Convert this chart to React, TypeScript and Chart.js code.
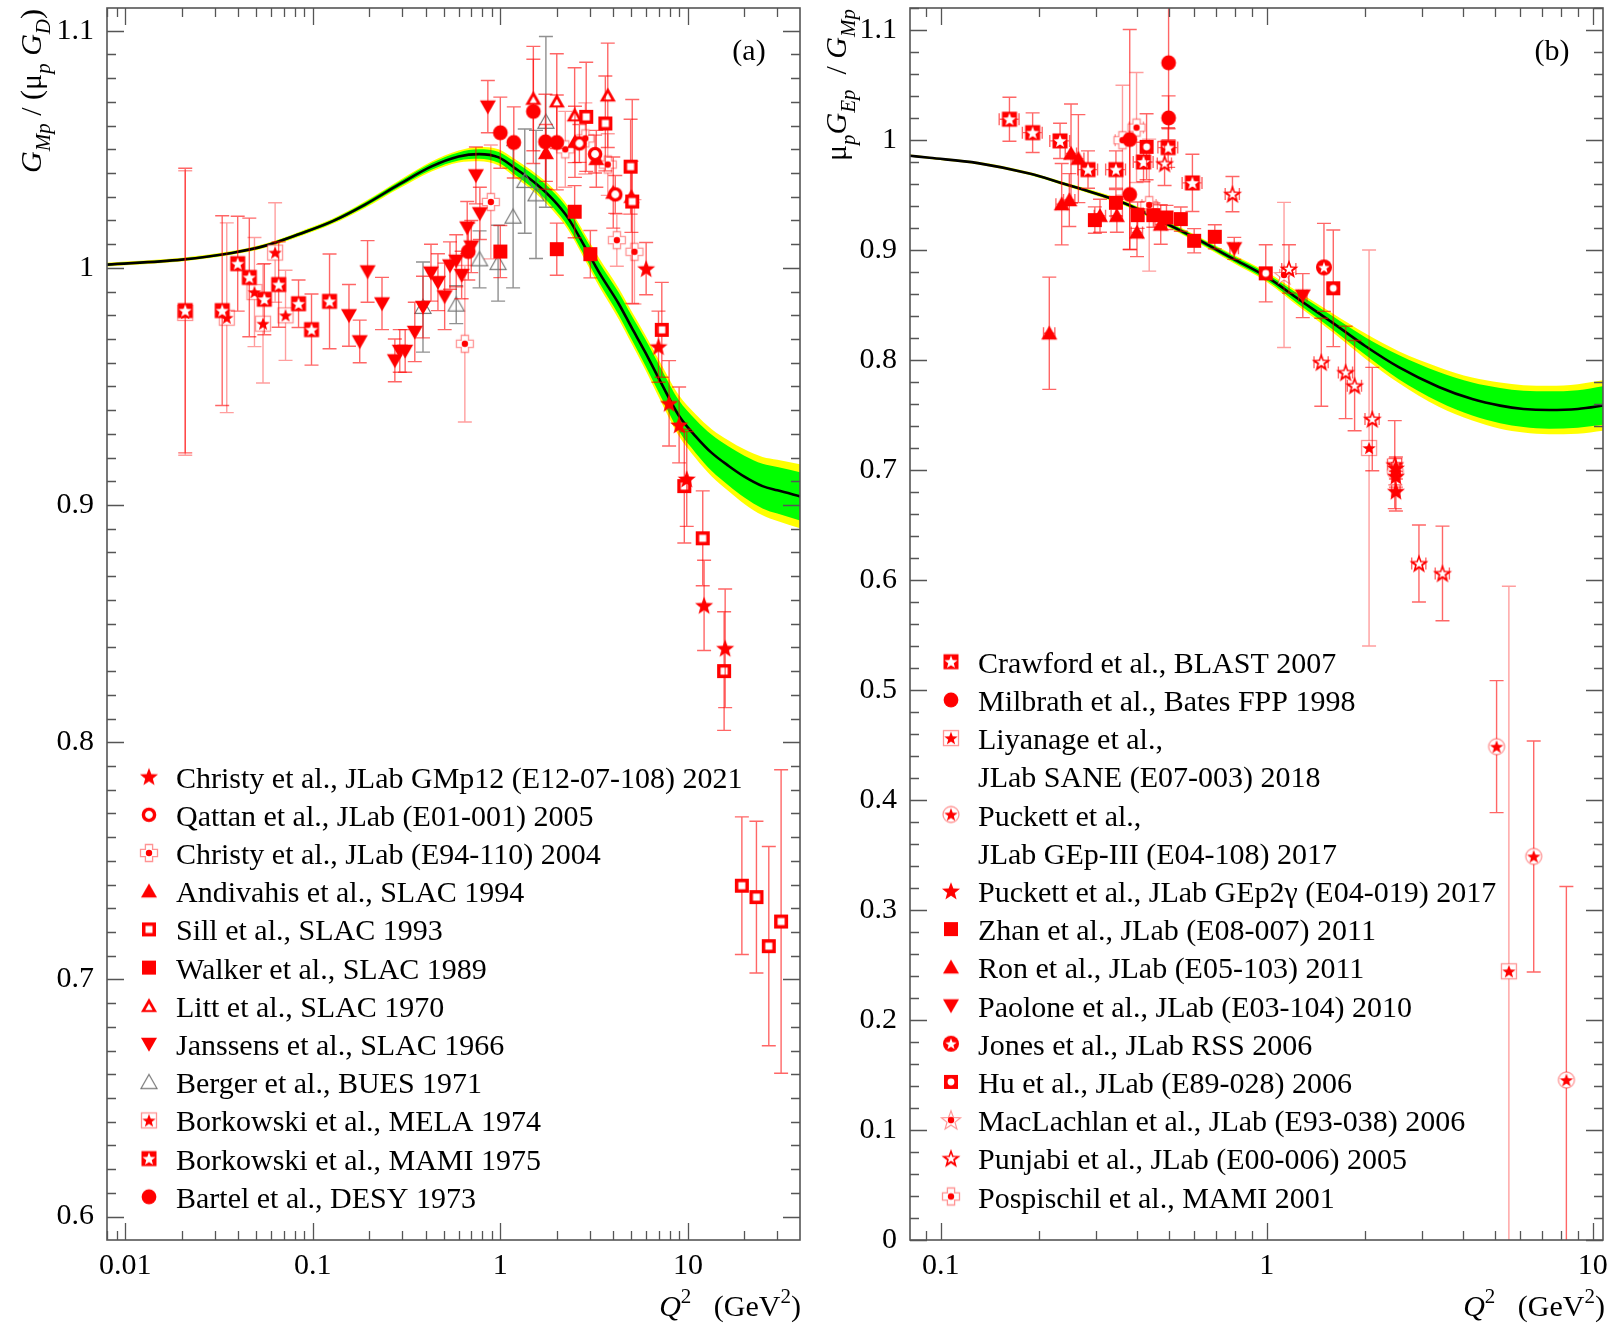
import React, { useEffect, useRef } from "react";
import { Chart, registerables } from "chart.js";
Chart.register(...registerables);

const FONT = "'Liberation Serif', 'Times New Roman', Times, serif";
const RED = "#ff0000";
const PINK = "rgba(255,0,0,0.42)";
const ERR_RED = "rgba(255,0,0,0.6)";
const ERR_PINK = "rgba(255,0,0,0.38)";
const ERR_GRAY = "rgba(70,70,70,0.6)";

// ---------------- Panel (a): G_Mp / (mu_p G_D) ----------------
const aXTicks = [0.01, 0.1, 1, 10];
const aYTicks = [0.6, 0.7, 0.8, 0.9, 1.0, 1.1];

const aCurveQ2 = [0.008, 0.02, 0.037, 0.056, 0.085, 0.127, 0.19, 0.29, 0.43, 0.6, 0.77, 0.98, 1.2, 1.55, 1.9, 2.3, 2.84, 3.4, 4.27, 5.0, 5.92, 7.2, 8.9, 11, 13.4, 16.5, 20, 25, 30, 40];
const aCurveVal = [1.0014, 1.0035, 1.0063, 1.0094, 1.0143, 1.0196, 1.0267, 1.0353, 1.0428, 1.047, 1.048, 1.0466, 1.042, 1.0355, 1.029, 1.021, 1.0085, 0.9975, 0.985, 0.975, 0.9645, 0.9515, 0.938, 0.929, 0.922, 0.9165, 0.912, 0.908, 0.9062, 0.9036];
const aCurveGreen = [0.0004, 0.0004, 0.0004, 0.0005, 0.0006, 0.0007, 0.0009, 0.0011, 0.0014, 0.0017, 0.002, 0.0023, 0.0027, 0.003, 0.0033, 0.0036, 0.004, 0.0043, 0.0047, 0.005, 0.0055, 0.006, 0.0065, 0.007, 0.0076, 0.0082, 0.0088, 0.0094, 0.0098, 0.0102];
const aCurveYellow = [0.0008, 0.0008, 0.0008, 0.0009, 0.001, 0.0011, 0.0014, 0.0017, 0.0021, 0.0025, 0.003, 0.0034, 0.0038, 0.0042, 0.0047, 0.005, 0.0055, 0.006, 0.0065, 0.0068, 0.0073, 0.008, 0.0086, 0.0093, 0.01, 0.0107, 0.0115, 0.0123, 0.0129, 0.0135];

const christy21Q2 = [5.99, 6.97, 7.94, 8.98, 9.86, 12.2, 15.8];
const christy21Val = [0.9997, 0.9668, 0.9429, 0.9338, 0.911, 0.8577, 0.8396];
const christy21Err = [0.011, 0.015, 0.018, 0.016, 0.02, 0.019, 0.025];

const qattanQ2 = [2.64, 3.2, 4.1];
const qattanVal = [1.0525, 1.048, 1.031];
const qattanErr = [0.008, 0.008, 0.008];

const christy04Q2 = [0.647, 0.89, 2.22, 2.84, 3.74, 4.18, 5.19];
const christy04Val = [0.968, 1.0278, 1.05, 1.0546, 1.0436, 1.0117, 1.0068];
const christy04Err = [0.033, 0.024, 0.016, 0.015, 0.013, 0.011, 0.022];

const andivahisQ2 = [1.75, 2.5, 3.25, 4.0, 5.0];
const andivahisVal = [1.0485, 1.0532, 1.046, 1.0318, 1.03];
const andivahisErr = [0.012, 0.015, 0.012, 0.015, 0.015];

const sillQ2 = [2.87, 3.63, 4.95, 5.05, 7.26, 9.57, 12.0, 15.6, 19.4, 23.2, 27.0, 31.4];
const sillVal = [1.0637, 1.0609, 1.0427, 1.028, 0.9739, 0.908, 0.886, 0.83, 0.7395, 0.7347, 0.714, 0.7244];
const sillErr = [0.023, 0.02, 0.02, 0.043, 0.02, 0.024, 0.02, 0.025, 0.029, 0.032, 0.042, 0.064];

const walkerQ2 = [1.0, 2.0, 2.49, 3.02];
const walkerVal = [1.0069, 1.0079, 1.0237, 1.0058];
const walkerErr = [0.011, 0.011, 0.011, 0.01];

const littQ2 = [1.5, 2.0, 2.49, 3.74];
const littVal = [1.0714, 1.0703, 1.0644, 1.0728];
const littErr = [0.022, 0.02, 0.02, 0.022];

const janssensQ2 = [0.156, 0.178, 0.196, 0.234, 0.274, 0.291, 0.311, 0.35, 0.387, 0.427, 0.465, 0.505, 0.539, 0.582, 0.622, 0.666, 0.7, 0.741, 0.778, 0.858];
const janssensVal = [0.98, 0.969, 0.9985, 0.985, 0.961, 0.965, 0.965, 0.973, 0.9835, 0.998, 0.994, 0.988, 1.001, 1.003, 0.997, 1.017, 1.009, 1.039, 1.023, 1.068];
const janssensErr = [0.013, 0.009, 0.013, 0.011, 0.009, 0.009, 0.009, 0.0125, 0.013, 0.012, 0.012, 0.014, 0.01, 0.011, 0.01, 0.011, 0.011, 0.012, 0.011, 0.011];

const bergerQ2 = [0.387, 0.582, 0.775, 0.973, 1.17, 1.35, 1.55, 1.75];
const bergerVal = [0.9835, 0.9845, 1.0036, 1.002, 1.0216, 1.0366, 1.031, 1.0616];
const bergerErr = [0.019, 0.008, 0.012, 0.016, 0.03, 0.022, 0.027, 0.036];

const melaQ2 = [0.0209, 0.0348, 0.0489, 0.0543, 0.063, 0.0716];
const melaVal = [0.981, 0.979, 0.9898, 0.9765, 1.0065, 0.98];
const melaErr = [0.06, 0.04, 0.023, 0.025, 0.021, 0.019];

const mamiQ2 = [0.0209, 0.0329, 0.0398, 0.0459, 0.0552, 0.0658, 0.084, 0.0985, 0.1229];
const mamiVal = [0.982, 0.982, 1.0018, 0.996, 0.9868, 0.993, 0.9849, 0.974, 0.9859];
const mamiErr = [0.06, 0.04, 0.02, 0.025, 0.015, 0.018, 0.01, 0.015, 0.02];

const bartelQ2 = [0.675, 1.0, 1.18, 1.5, 1.74, 2.0];
const bartelVal = [1.0069, 1.057, 1.0529, 1.066, 1.0532, 1.0529];
const bartelErr = [0.012, 0.015, 0.015, 0.022, 0.02, 0.02];

const aLegendLabels = [
  "Christy et al., JLab GMp12 (E12-07-108) 2021",
  "Qattan et al., JLab (E01-001) 2005",
  "Christy et al., JLab (E94-110) 2004",
  "Andivahis et al., SLAC 1994",
  "Sill et al., SLAC 1993",
  "Walker et al., SLAC 1989",
  "Litt et al., SLAC 1970",
  "Janssens et al., SLAC 1966",
  "Berger et al., BUES 1971",
  "Borkowski et al., MELA 1974",
  "Borkowski et al., MAMI 1975",
  "Bartel et al., DESY 1973",
];
const aLegendMarkers = ["starFilled", "ring", "crossDot", "triUp", "squareOpen", "squareFilled", "triUpOpen", "triDown", "triGray", "boxStar", "squareWhiteStar", "circleFilled"];

// ---------------- Panel (b): mu_p G_Ep / G_Mp ----------------
const bXTicks = [0.1, 1, 10];
const bYTicks = [0, 0.1, 0.2, 0.3, 0.4, 0.5, 0.6, 0.7, 0.8, 0.9, 1.0, 1.1];

const bCurveQ2 = [0.08, 0.0924, 0.13, 0.187, 0.234, 0.299, 0.378, 0.479, 0.606, 0.785, 1.0, 1.256, 1.59, 2.01, 2.54, 3.37, 4.27, 5.2, 6.13, 7.35, 9.0, 11.0];
const bCurveVal = [0.9858, 0.9838, 0.979, 0.9695, 0.961, 0.9514, 0.9408, 0.9257, 0.9105, 0.8924, 0.8755, 0.855, 0.834, 0.8125, 0.7935, 0.7755, 0.7645, 0.7585, 0.7555, 0.7545, 0.7555, 0.759];
const bCurveGreen = [0.0005, 0.0005, 0.0006, 0.0008, 0.001, 0.0012, 0.0014, 0.0017, 0.002, 0.0025, 0.003, 0.0045, 0.006, 0.008, 0.011, 0.0135, 0.015, 0.016, 0.0165, 0.017, 0.017, 0.0175];
const bCurveYellow = [0.001, 0.001, 0.0012, 0.0014, 0.0016, 0.0019, 0.0022, 0.0026, 0.003, 0.0037, 0.0045, 0.0065, 0.0085, 0.0115, 0.0145, 0.018, 0.0195, 0.021, 0.0215, 0.022, 0.0225, 0.023];

const crawfordQ2 = [0.1625, 0.1914, 0.2323, 0.283, 0.3447, 0.4189, 0.4985, 0.5916];
const crawfordVal = [1.0189, 1.0067, 0.9992, 0.9731, 0.9731, 0.98, 0.9931, 0.961];
const crawfordErr = [0.02, 0.018, 0.016, 0.017, 0.017, 0.018, 0.018, 0.026];

const milbrathQ2 = [0.38, 0.38, 0.5, 0.5];
const milbrathVal = [1.0004, 0.9505, 1.0702, 1.0201];
const milbrathErr = [0.1, 0.05, 0.06, 0.02];

const liyanageQ2 = [2.06, 5.53];
const liyanageVal = [0.72, 0.2443];
const liyanageErr = [0.18, 0.35];

const puckett3Q2 = [2.48, 5.07, 6.59, 8.3];
const puckett3Val = [0.6985, 0.4485, 0.3487, 0.1454];
const puckett3Err = [0.012, 0.06, 0.105, 0.176];

const puckett2gQ2 = [2.49, 2.49, 2.49];
const puckett2gVal = [0.7018, 0.6944, 0.6807];
const puckett2gErr = [0.01, 0.01, 0.018];

const zhanQ2 = [0.297, 0.3447, 0.4018, 0.449, 0.4926, 0.545, 0.599, 0.693];
const zhanVal = [0.9272, 0.9429, 0.9317, 0.9317, 0.9296, 0.9281, 0.9084, 0.912];
const zhanErr = [0.012, 0.012, 0.012, 0.011, 0.011, 0.011, 0.011, 0.011];

const ronQ2 = [0.2153, 0.235, 0.248, 0.251, 0.2644, 0.308, 0.347, 0.4, 0.473];
const ronVal = [0.8243, 0.9417, 0.9454, 0.9877, 0.9831, 0.9311, 0.9311, 0.916, 0.9232];
const ronErr = [0.051, 0.037, 0.024, 0.045, 0.04, 0.015, 0.015, 0.022, 0.018];

const paoloneQ2 = [0.795, 1.29];
const paoloneVal = [0.9015, 0.8585];
const paoloneErr = [0.01, 0.02];

const jonesQ2 = [1.498];
const jonesVal = [0.8842];
const jonesErr = [0.04];

const huQ2 = [0.428, 0.993, 1.6];
const huVal = [0.9938, 0.8788, 0.8652];
const huErr = [0.03, 0.026, 0.053];

const maclachlanQ2 = [1.13];
const maclachlanVal = [0.8773];
const maclachlanErr = [0.066];

const punjabiQ2 = [0.486, 0.785, 1.17, 1.47, 1.746, 1.86, 2.107, 2.47, 2.93, 3.46];
const punjabiVal = [0.9786, 0.9508, 0.8828, 0.798, 0.7887, 0.7767, 0.7463, 0.7049, 0.615, 0.606];
const punjabiErr = [0.02, 0.016, 0.022, 0.04, 0.042, 0.041, 0.047, 0.04, 0.035, 0.043];

const pospischilQ2 = [0.361, 0.3987, 0.436];
const pospischilVal = [0.9998, 1.0113, 0.9408];
const pospischilErr = [0.05, 0.05, 0.06];

const bLegendLabels = [
  "Crawford et al., BLAST 2007",
  "Milbrath et al., Bates FPP 1998",
  "Liyanage et al.,",
  "JLab SANE (E07-003) 2018",
  "Puckett et al.,",
  "JLab GEp-III (E04-108) 2017",
  "Puckett et al., JLab GEp2γ (E04-019) 2017",
  "Zhan et al., JLab (E08-007) 2011",
  "Ron et al., JLab (E05-103) 2011",
  "Paolone et al., JLab (E03-104) 2010",
  "Jones et al., JLab RSS 2006",
  "Hu et al., JLab (E89-028) 2006",
  "MacLachlan et al., JLab (E93-038) 2006",
  "Punjabi et al., JLab (E00-006) 2005",
  "Pospischil et al., MAMI 2001",
];
const bLegendMarkers = ["squareWhiteStar", "circleFilled", "boxStar", "", "circleStar", "", "starFilled", "squareFilled", "triUp", "triDown", "circleWhiteStar", "squareWhiteCircle", "starOpenDot", "starWhiteDot", "crossDot"];

// ---------------- markers ----------------
const MS = 26;
function makeMarkers(): Record<string, HTMLCanvasElement> {
  const m = (f: (c: CanvasRenderingContext2D) => void) => {
    const cv = document.createElement("canvas");
    cv.width = MS;
    cv.height = MS;
    const c = cv.getContext("2d") as CanvasRenderingContext2D;
    c.translate(MS / 2, MS / 2);
    f(c);
    return cv;
  };
  const star = (c: CanvasRenderingContext2D, R: number) => {
    c.beginPath();
    for (let i = 0; i < 10; i++) {
      const a = -Math.PI / 2 + (i * Math.PI) / 5;
      const r = i % 2 ? R * 0.42 : R;
      c.lineTo(r * Math.cos(a), r * Math.sin(a) + R * 0.08);
    }
    c.closePath();
  };
  const tri = (c: CanvasRenderingContext2D, up: boolean, w: number, h: number) => {
    c.beginPath();
    const s = up ? 1 : -1;
    c.moveTo(0, -s * h * 0.55);
    c.lineTo(w / 2, s * h * 0.45);
    c.lineTo(-w / 2, s * h * 0.45);
    c.closePath();
  };
  const plus = (c: CanvasRenderingContext2D, L: number, W: number) => {
    c.beginPath();
    c.moveTo(-W, -L); c.lineTo(W, -L); c.lineTo(W, -W); c.lineTo(L, -W); c.lineTo(L, W); c.lineTo(W, W);
    c.lineTo(W, L); c.lineTo(-W, L); c.lineTo(-W, W); c.lineTo(-L, W); c.lineTo(-L, -W); c.lineTo(-W, -W);
    c.closePath();
  };
  const circ = (c: CanvasRenderingContext2D, r: number) => {
    c.beginPath();
    c.arc(0, 0, r, 0, Math.PI * 2);
  };
  return {
    starFilled: m((c) => { star(c, 9.5); c.fillStyle = RED; c.fill(); }),
    ring: m((c) => { circ(c, 5.6); c.fillStyle = "#fff"; c.fill(); c.lineWidth = 3.4; c.strokeStyle = RED; c.stroke(); }),
    crossDot: m((c) => { plus(c, 8.5, 3.6); c.fillStyle = "#fff"; c.fill(); c.lineWidth = 1.3; c.strokeStyle = PINK; c.stroke(); circ(c, 3.2); c.fillStyle = RED; c.fill(); }),
    triUp: m((c) => { tri(c, true, 16, 14); c.fillStyle = RED; c.fill(); }),
    triDown: m((c) => { tri(c, false, 16, 14); c.fillStyle = RED; c.fill(); }),
    triUpOpen: m((c) => { tri(c, true, 16, 14); c.fillStyle = RED; c.fill(); c.save(); c.translate(0, 1.3); c.scale(0.45, 0.45); tri(c, true, 16, 14); c.fillStyle = "#fff"; c.fill(); c.restore(); }),
    triGray: m((c) => { tri(c, true, 16, 14); c.lineWidth = 1.2; c.strokeStyle = "#777"; c.stroke(); }),
    squareOpen: m((c) => { c.fillStyle = RED; c.fillRect(-7, -7, 14, 14); c.fillStyle = "#fff"; c.fillRect(-3.5, -3.5, 7, 7); }),
    squareFilled: m((c) => { c.fillStyle = RED; c.fillRect(-7, -7, 14, 14); }),
    circleFilled: m((c) => { circ(c, 7.4); c.fillStyle = RED; c.fill(); }),
    boxStar: m((c) => { c.fillStyle = "#fff"; c.fillRect(-7.5, -7.5, 15, 15); c.lineWidth = 1.3; c.strokeStyle = PINK; c.strokeRect(-7.5, -7.5, 15, 15); star(c, 7); c.fillStyle = RED; c.fill(); }),
    squareWhiteStar: m((c) => { c.fillStyle = RED; c.fillRect(-7.5, -7.5, 15, 15); star(c, 6.8); c.fillStyle = "#fff"; c.fill(); }),
    circleStar: m((c) => { circ(c, 8); c.fillStyle = "#fff"; c.fill(); c.lineWidth = 1.3; c.strokeStyle = PINK; c.stroke(); star(c, 7); c.fillStyle = RED; c.fill(); }),
    circleWhiteStar: m((c) => { circ(c, 8); c.fillStyle = RED; c.fill(); star(c, 6); c.fillStyle = "#fff"; c.fill(); }),
    squareWhiteCircle: m((c) => { c.fillStyle = RED; c.fillRect(-7, -7, 14, 14); circ(c, 3.4); c.fillStyle = "#fff"; c.fill(); }),
    starOpenDot: m((c) => { star(c, 10); c.fillStyle = "#fff"; c.fill(); c.lineWidth = 1.2; c.strokeStyle = PINK; c.stroke(); circ(c, 3.2); c.fillStyle = RED; c.fill(); }),
    starWhiteDot: m((c) => { star(c, 10); c.fillStyle = RED; c.fill(); star(c, 5.2); c.fillStyle = "#fff"; c.fill(); }),
  };
}

// ---------------- rich text helper ----------------
type Seg = { t: string; it?: boolean; sub?: boolean; sup?: boolean };
function drawRich(ctx: CanvasRenderingContext2D, segs: Seg[], x: number, y: number, size: number, align: "left" | "right") {
  const fontFor = (s: Seg) => `${s.it ? "italic " : ""}${s.sub || s.sup ? Math.round(size * 0.7) : size}px ${FONT}`;
  let w = 0;
  for (const s of segs) { ctx.font = fontFor(s); w += ctx.measureText(s.t).width; }
  let cx = align === "right" ? x - w : x;
  ctx.textAlign = "left";
  ctx.textBaseline = "alphabetic";
  for (const s of segs) {
    ctx.font = fontFor(s);
    const dy = s.sub ? size * 0.3 : s.sup ? -size * 0.42 : 0;
    ctx.fillText(s.t, cx, y + dy);
    cx += ctx.measureText(s.t).width;
  }
}

const X_TITLE: Seg[] = [{ t: "Q", it: true }, { t: "2", sup: true }, { t: "   (GeV" }, { t: "2", sup: true }, { t: ")" }];
const A_Y_TITLE: Seg[] = [{ t: "G", it: true }, { t: "Mp", it: true, sub: true }, { t: " / (μ" }, { t: "p", it: true, sub: true }, { t: " " }, { t: "G", it: true }, { t: "D", it: true, sub: true }, { t: ")" }];
const B_Y_TITLE: Seg[] = [{ t: "μ" }, { t: "p", it: true, sub: true }, { t: "G", it: true }, { t: "Ep", it: true, sub: true }, { t: "  / " }, { t: "G", it: true }, { t: "Mp", it: true, sub: true }];

type Series = { q: number[]; v: number[]; e: number[]; marker: string; color: string; xRel?: number };

type PanelCfg = {
  width: number; height: number;
  area: { left: number; right: number; top: number; bottom: number };
  xMin: number; xMax: number; yMin: number; yMax: number;
  xTicks: number[]; yTicks: number[]; yMinorStep: number;
  curveQ: number[]; curveV: number[]; curveG: number[]; curveY: number[];
  series: Series[];
  legendLabels: string[]; legendMarkers: string[];
  legendMarkerX: number; legendTextX: number; legendY0: number; legendStep: number;
  yTitle: Seg[]; yTitleX: number; xTitleRight: number; tag: string; tagX: number;
};

function buildChart(canvas: HTMLCanvasElement, p: PanelCfg, markers: Record<string, HTMLCanvasElement>) {
  const pts = (q: number[], v: number[], d?: number[], sign = 0) => q.map((x, i) => ({ x, y: v[i] + (d ? sign * d[i] : 0) }));
  const datasets: any[] = [];
  p.series.forEach((s) => {
    datasets.push({
      data: pts(s.q, s.v),
      showLine: false,
      pointStyle: markers[s.marker],
      pointRadius: 7,
      order: 0,
      errY: s.e,
      errColor: s.color,
      xRel: s.xRel || 0,
    });
  });
  const curveBase = { showLine: true, pointRadius: 0, cubicInterpolationMode: "monotone" };
  datasets.push({ ...curveBase, data: pts(p.curveQ, p.curveV), borderColor: "#000", borderWidth: 2.6, fill: false, order: 1 });
  datasets.push({ ...curveBase, data: pts(p.curveQ, p.curveV, p.curveG, 1), borderWidth: 0, borderColor: "rgba(0,0,0,0)", backgroundColor: "#00ff00", fill: "+1", order: 2 });
  datasets.push({ ...curveBase, data: pts(p.curveQ, p.curveV, p.curveG, -1), borderWidth: 0, borderColor: "rgba(0,0,0,0)", fill: false, order: 2 });
  datasets.push({ ...curveBase, data: pts(p.curveQ, p.curveV, p.curveY, 1), borderWidth: 0, borderColor: "rgba(0,0,0,0)", backgroundColor: "#ffff00", fill: "+1", order: 3 });
  datasets.push({ ...curveBase, data: pts(p.curveQ, p.curveV, p.curveY, -1), borderWidth: 0, borderColor: "rgba(0,0,0,0)", fill: false, order: 3 });

  const errorBars = {
    id: "errorBars",
    beforeDatasetDraw(chart: any, args: any) {
      const ds: any = chart.data.datasets[args.index];
      if (!ds.errY) return;
      const { ctx, chartArea: a } = chart;
      const xs = chart.scales.x;
      const ys = chart.scales.y;
      ctx.save();
      ctx.beginPath();
      ctx.rect(a.left, a.top, a.right - a.left, a.bottom - a.top);
      ctx.clip();
      ctx.strokeStyle = ds.errColor;
      ctx.lineWidth = 1.4;
      ds.data.forEach((pt: any, i: number) => {
        const px = xs.getPixelForValue(pt.x);
        const py = ys.getPixelForValue(pt.y);
        const e = ds.errY[i];
        const y1 = ys.getPixelForValue(pt.y + e);
        const y2 = ys.getPixelForValue(pt.y - e);
        ctx.beginPath();
        ctx.moveTo(px, y1); ctx.lineTo(px, y2);
        ctx.moveTo(px - 7, y1); ctx.lineTo(px + 7, y1);
        ctx.moveTo(px - 7, y2); ctx.lineTo(px + 7, y2);
        if (ds.xRel) {
          const x1 = xs.getPixelForValue(pt.x * (1 - ds.xRel));
          const x2 = xs.getPixelForValue(pt.x * (1 + ds.xRel));
          ctx.moveTo(x1, py); ctx.lineTo(x2, py);
          ctx.moveTo(x1, py - 6); ctx.lineTo(x1, py + 6);
          ctx.moveTo(x2, py - 6); ctx.lineTo(x2, py + 6);
        }
        ctx.stroke();
      });
      ctx.restore();
    },
  };

  const frame = {
    id: "frame",
    afterDatasetsDraw(chart: any) {
      const { ctx, chartArea: a } = chart;
      const xs = chart.scales.x;
      const ys = chart.scales.y;
      ctx.save();
      ctx.strokeStyle = "#555";
      ctx.lineWidth = 1.6;
      ctx.strokeRect(a.left, a.top, a.right - a.left, a.bottom - a.top);
      ctx.lineWidth = 1.3;
      ctx.beginPath();
      const nMin = Math.ceil(p.yMin / p.yMinorStep - 1e-6);
      const nMax = Math.floor(p.yMax / p.yMinorStep + 1e-6);
      for (let n = nMin; n <= nMax; n++) {
        const v = n * p.yMinorStep;
        const isMajor = Math.abs(v * 10 - Math.round(v * 10)) < 1e-6;
        const L = isMajor ? 17 : 9;
        const py = Math.round(ys.getPixelForValue(v)) + 0.5;
        ctx.moveTo(a.left, py); ctx.lineTo(a.left + L, py);
        ctx.moveTo(a.right, py); ctx.lineTo(a.right - L, py);
      }
      for (let e = -3; e <= 2; e++) {
        for (let k = 1; k <= 9; k++) {
          const v = k * Math.pow(10, e);
          if (v < p.xMin || v > p.xMax) continue;
          const L = k === 1 ? 17 : 9;
          const px = Math.round(xs.getPixelForValue(v)) + 0.5;
          ctx.moveTo(px, a.bottom); ctx.lineTo(px, a.bottom - L);
          ctx.moveTo(px, a.top); ctx.lineTo(px, a.top + L);
        }
      }
      ctx.stroke();
      ctx.restore();
    },
  };

  const overlay = {
    id: "overlay",
    afterDraw(chart: any) {
      const { ctx, chartArea: a } = chart;
      ctx.save();
      ctx.fillStyle = "#000";
      p.legendLabels.forEach((label, i) => {
        const y = p.legendY0 + i * p.legendStep;
        const mk = p.legendMarkers[i];
        if (mk) ctx.drawImage(markers[mk], p.legendMarkerX - MS / 2, y - MS / 2);
        ctx.font = `30px ${FONT}`;
        ctx.textAlign = "left";
        ctx.textBaseline = "alphabetic";
        ctx.fillText(label, p.legendTextX, y + 11);
      });
      ctx.font = `30px ${FONT}`;
      ctx.textAlign = "center";
      ctx.textBaseline = "alphabetic";
      ctx.fillText(p.tag, p.tagX, 60);
      drawRich(ctx, X_TITLE, p.xTitleRight, 1316, 30, "right");
      ctx.save();
      ctx.translate(p.yTitleX, a.top + 1);
      ctx.rotate(-Math.PI / 2);
      drawRich(ctx, p.yTitle, 0, 0, 30, "right");
      ctx.restore();
      ctx.restore();
    },
  };

  const fmt = (v: number) => String(Math.round(v * 100) / 100);

  return new Chart(canvas, {
    type: "line",
    data: { datasets },
    options: {
      responsive: false,
      animation: false,
      devicePixelRatio: 1,
      events: [],
      layout: { padding: { left: 0, top: p.area.top, right: p.width - p.area.right, bottom: 0 } },
      plugins: { legend: { display: false }, tooltip: { enabled: false } },
      scales: {
        x: {
          type: "logarithmic",
          position: "bottom",
          min: p.xMin,
          max: p.xMax,
          grid: { display: false, drawTicks: false },
          border: { display: false },
          ticks: { font: { family: FONT, size: 30 }, color: "#000", padding: 8, maxRotation: 0, autoSkip: false, callback: (v: any) => fmt(Number(v)) },
          afterBuildTicks: (s: any) => { s.ticks = p.xTicks.map((value) => ({ value })); },
          afterFit: (s: any) => { s.height = p.height - p.area.bottom; s.paddingLeft = 0; s.paddingRight = 0; },
        },
        y: {
          type: "linear",
          position: "left",
          min: p.yMin,
          max: p.yMax,
          grid: { display: false, drawTicks: false },
          border: { display: false },
          ticks: { font: { family: FONT, size: 30 }, color: "#000", padding: 13, autoSkip: false, callback: (v: any) => fmt(Number(v)) },
          afterBuildTicks: (s: any) => { s.ticks = p.yTicks.map((value) => ({ value })); },
          afterFit: (s: any) => { s.width = p.area.left; s.paddingTop = 0; s.paddingBottom = 0; },
        },
      },
    } as any,
    plugins: [errorBars, frame, overlay],
  });
}

const LEFT_W = 808;
const RIGHT_X = 808;
const RIGHT_W = 803;
const H = 1332;

export default function App() {
  const leftRef = useRef<HTMLCanvasElement>(null);
  const rightRef = useRef<HTMLCanvasElement>(null);

  useEffect(() => {
    const markers = makeMarkers();
    const aSeries: Series[] = [
      { q: bergerQ2, v: bergerVal, e: bergerErr, marker: "triGray", color: ERR_GRAY },
      { q: melaQ2, v: melaVal, e: melaErr, marker: "boxStar", color: ERR_PINK },
      { q: christy04Q2, v: christy04Val, e: christy04Err, marker: "crossDot", color: ERR_PINK },
      { q: janssensQ2, v: janssensVal, e: janssensErr, marker: "triDown", color: ERR_RED },
      { q: mamiQ2, v: mamiVal, e: mamiErr, marker: "squareWhiteStar", color: ERR_RED },
      { q: bartelQ2, v: bartelVal, e: bartelErr, marker: "circleFilled", color: ERR_RED },
      { q: littQ2, v: littVal, e: littErr, marker: "triUpOpen", color: ERR_RED },
      { q: walkerQ2, v: walkerVal, e: walkerErr, marker: "squareFilled", color: ERR_RED },
      { q: andivahisQ2, v: andivahisVal, e: andivahisErr, marker: "triUp", color: ERR_RED },
      { q: qattanQ2, v: qattanVal, e: qattanErr, marker: "ring", color: ERR_RED },
      { q: sillQ2, v: sillVal, e: sillErr, marker: "squareOpen", color: ERR_RED },
      { q: christy21Q2, v: christy21Val, e: christy21Err, marker: "starFilled", color: ERR_RED },
    ].reverse();
    const bSeries: Series[] = [
      { q: pospischilQ2, v: pospischilVal, e: pospischilErr, marker: "crossDot", color: ERR_PINK, xRel: 0.05 },
      { q: maclachlanQ2, v: maclachlanVal, e: maclachlanErr, marker: "starOpenDot", color: ERR_PINK, xRel: 0.03 },
      { q: liyanageQ2, v: liyanageVal, e: liyanageErr, marker: "boxStar", color: ERR_PINK },
      { q: milbrathQ2, v: milbrathVal, e: milbrathErr, marker: "circleFilled", color: ERR_RED },
      { q: ronQ2, v: ronVal, e: ronErr, marker: "triUp", color: ERR_RED, xRel: 0.04 },
      { q: zhanQ2, v: zhanVal, e: zhanErr, marker: "squareFilled", color: ERR_RED, xRel: 0.04 },
      { q: crawfordQ2, v: crawfordVal, e: crawfordErr, marker: "squareWhiteStar", color: ERR_RED, xRel: 0.07 },
      { q: paoloneQ2, v: paoloneVal, e: paoloneErr, marker: "triDown", color: ERR_RED, xRel: 0.03 },
      { q: huQ2, v: huVal, e: huErr, marker: "squareWhiteCircle", color: ERR_RED, xRel: 0.04 },
      { q: jonesQ2, v: jonesVal, e: jonesErr, marker: "circleWhiteStar", color: ERR_RED, xRel: 0.03 },
      { q: punjabiQ2, v: punjabiVal, e: punjabiErr, marker: "starWhiteDot", color: ERR_RED, xRel: 0.05 },
      { q: puckett3Q2, v: puckett3Val, e: puckett3Err, marker: "circleStar", color: ERR_RED },
      { q: puckett2gQ2, v: puckett2gVal, e: puckett2gErr, marker: "starFilled", color: ERR_RED, xRel: 0.03 },
    ].reverse();

    const left = buildChart(leftRef.current as HTMLCanvasElement, {
      width: LEFT_W, height: H,
      area: { left: 107, right: 802, top: 6, bottom: 1240 },
      xMin: 0.008, xMax: 39.6, yMin: 0.5901, yMax: 1.1096,
      xTicks: aXTicks, yTicks: aYTicks, yMinorStep: 0.01,
      curveQ: aCurveQ2, curveV: aCurveVal, curveG: aCurveGreen, curveY: aCurveYellow,
      series: aSeries,
      legendLabels: aLegendLabels, legendMarkers: aLegendMarkers,
      legendMarkerX: 149, legendTextX: 176, legendY0: 776.6, legendStep: 38.2,
      yTitle: A_Y_TITLE, yTitleX: 41, xTitleRight: 801, tag: "(a)", tagX: 749,
    }, markers);

    const right = buildChart(rightRef.current as HTMLCanvasElement, {
      width: RIGHT_W, height: H,
      area: { left: 102, right: 796.5, top: 6, bottom: 1240 },
      xMin: 0.0805, xMax: 10.75, yMin: 0, yMax: 1.12,
      xTicks: bXTicks, yTicks: bYTicks, yMinorStep: 0.02,
      curveQ: bCurveQ2, curveV: bCurveVal, curveG: bCurveGreen, curveY: bCurveYellow,
      series: bSeries,
      legendLabels: bLegendLabels, legendMarkers: bLegendMarkers,
      legendMarkerX: 143, legendTextX: 170, legendY0: 661.7, legendStep: 38.2,
      yTitle: B_Y_TITLE, yTitleX: 38, xTitleRight: 797, tag: "(b)", tagX: 744,
    }, markers);

    return () => {
      left.destroy();
      right.destroy();
    };
  }, []);

  return (
    <div style={{ position: "absolute", left: 0, top: 0, width: 1611, height: H, background: "#fff", overflow: "hidden" }}>
      <canvas ref={leftRef} width={LEFT_W} height={H} style={{ position: "absolute", left: 0, top: 0, width: LEFT_W, height: H }} />
      <canvas ref={rightRef} width={RIGHT_W} height={H} style={{ position: "absolute", left: RIGHT_X, top: 0, width: RIGHT_W, height: H }} />
    </div>
  );
}
